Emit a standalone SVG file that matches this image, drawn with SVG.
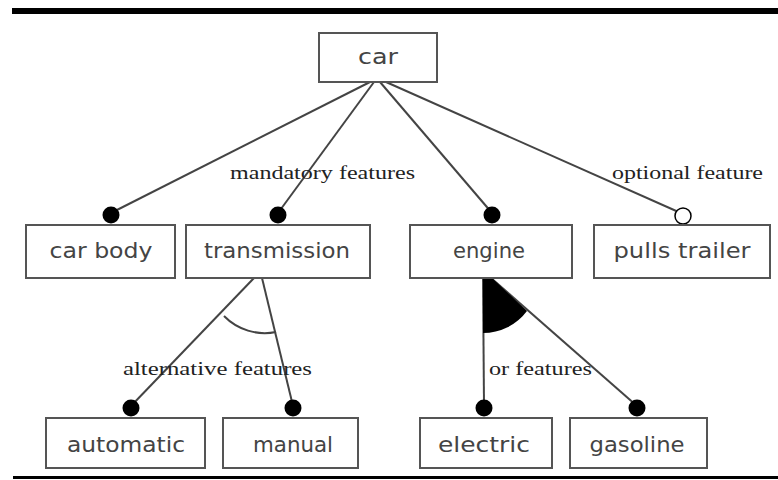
<svg xmlns="http://www.w3.org/2000/svg" width="778" height="480" viewBox="0 0 778 480">
<style>
.box{fill:#fff;stroke:#555;stroke-width:2}
.nt{font-family:"DejaVu Sans",sans-serif;font-size:21px;fill:#444;text-anchor:middle}
.lb{font-family:"Liberation Serif",serif;font-size:18px;fill:#222}
.ln{stroke:#444;stroke-width:2;fill:none}
.dot{fill:#000}
</style>
<rect width="778" height="480" fill="#fff"/>
<rect x="12" y="8" width="766" height="6" fill="#000"/>
<rect x="13" y="476" width="765" height="3" fill="#000"/>

<g id="connectors">
<line class="ln" x1="370" y1="82" x2="111" y2="213"/>
<line class="ln" x1="374" y1="82" x2="278" y2="213"/>
<line class="ln" x1="380" y1="82" x2="492" y2="213"/>
<line class="ln" x1="386" y1="82" x2="683" y2="214"/>
<line class="ln" x1="254" y1="278" x2="131" y2="406"/>
<line class="ln" x1="262" y1="278" x2="293" y2="406"/>
<path class="ln" d="M224,316 A57,57 0 0,0 276,332"/>
<line class="ln" x1="483" y1="278" x2="484" y2="406"/>
<line class="ln" x1="491" y1="278" x2="637" y2="406"/>
<path d="M483,278 L492,278 L527,311 A55,55 0 0,1 483,333 Z" fill="#000"/>
<circle class="dot" cx="111" cy="215" r="8.5"/>
<circle class="dot" cx="278" cy="215" r="8.5"/>
<circle class="dot" cx="492" cy="215" r="8.5"/>
<circle cx="683" cy="216" r="8" fill="#fff" stroke="#000" stroke-width="1.5"/>
<circle class="dot" cx="131" cy="408" r="8.5"/>
<circle class="dot" cx="293" cy="408" r="8.5"/>
<circle class="dot" cx="484" cy="408" r="8.5"/>
<circle class="dot" cx="637" cy="408" r="8.5"/>
<text class="lb" x="230" y="179" textLength="185" lengthAdjust="spacingAndGlyphs">mandatory features</text>
<text class="lb" x="612" y="179" textLength="151" lengthAdjust="spacingAndGlyphs">optional feature</text>
<text class="lb" x="123" y="375" textLength="189" lengthAdjust="spacingAndGlyphs">alternative features</text>
<text class="lb" x="489" y="375" textLength="103" lengthAdjust="spacingAndGlyphs">or features</text>
</g>

<g id="car"><rect class="box" x="319" y="33" width="118" height="49"/><text class="nt" x="378" y="64" textLength="40" lengthAdjust="spacingAndGlyphs">car</text></g>
<g id="car-body"><rect class="box" x="26" y="225" width="149" height="53"/><text class="nt" x="101" y="258" textLength="103" lengthAdjust="spacingAndGlyphs">car body</text></g>
<g id="transmission"><rect class="box" x="186" y="225" width="184" height="53"/><text class="nt" x="277" y="258" textLength="146" lengthAdjust="spacingAndGlyphs">transmission</text></g>
<g id="engine"><rect class="box" x="410" y="225" width="162" height="53"/><text class="nt" x="489" y="258" textLength="72" lengthAdjust="spacingAndGlyphs">engine</text></g>
<g id="pulls-trailer"><rect class="box" x="594" y="225" width="176" height="53"/><text class="nt" x="682" y="258" textLength="137" lengthAdjust="spacingAndGlyphs">pulls trailer</text></g>
<g id="automatic"><rect class="box" x="46" y="418" width="159" height="50"/><text class="nt" x="126" y="452" textLength="118" lengthAdjust="spacingAndGlyphs">automatic</text></g>
<g id="manual"><rect class="box" x="223" y="418" width="135" height="50"/><text class="nt" x="293" y="452" textLength="80" lengthAdjust="spacingAndGlyphs">manual</text></g>
<g id="electric"><rect class="box" x="420" y="418" width="132" height="50"/><text class="nt" x="484" y="452" textLength="92" lengthAdjust="spacingAndGlyphs">electric</text></g>
<g id="gasoline"><rect class="box" x="570" y="418" width="137" height="50"/><text class="nt" x="637" y="452" textLength="95" lengthAdjust="spacingAndGlyphs">gasoline</text></g>
</svg>
